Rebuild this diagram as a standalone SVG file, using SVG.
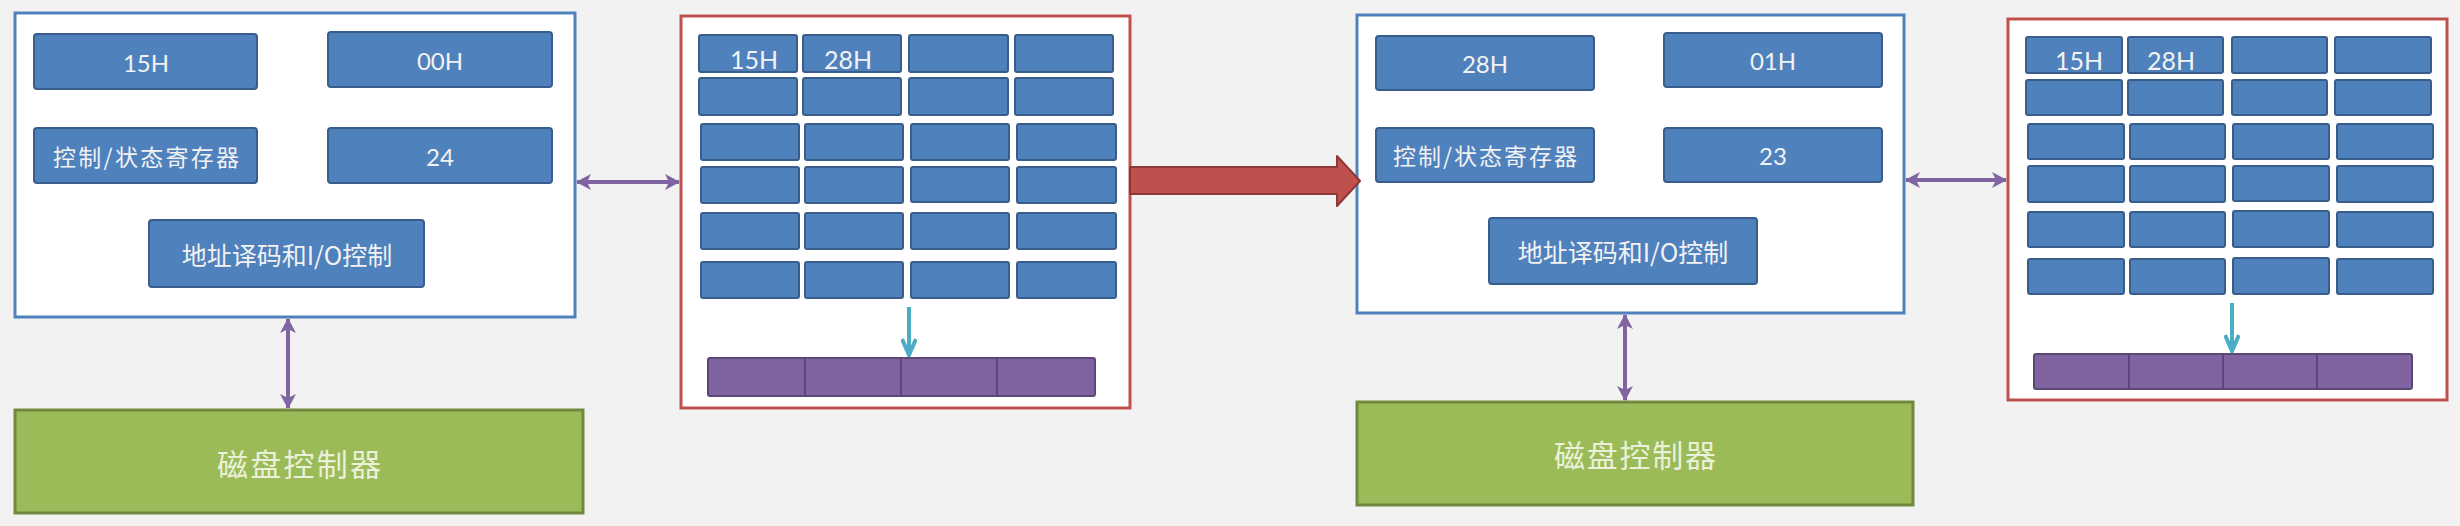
<svg xmlns="http://www.w3.org/2000/svg" width="2460" height="526" viewBox="0 0 2460 526">
<defs>
<style>
.bg{fill:#f2f2f2}
.frameB{fill:#ffffff;stroke:#4f81bd;stroke-width:3}
.frameR{fill:#ffffff;stroke:#c0504d;stroke-width:3}
.cell{fill:#4f81bd;stroke:#385d8a;stroke-width:2}
.green{fill:#9bbb59;stroke:#71893f;stroke-width:3}
.bar{fill:#8064a2;stroke:#5c4776;stroke-width:2}
.div{stroke:#5c4776;stroke-width:2}
.t{fill:#f2f2f2;font-family:Lato,"Liberation Sans","Noto Sans CJK SC",sans-serif;font-size:24px;text-anchor:middle;dominant-baseline:central}
.tc{fill:#f2f2f2;font-family:"Noto Sans CJK SC","Noto Sans",sans-serif;font-size:23px;text-anchor:middle;dominant-baseline:central}
.ta{fill:#f2f2f2;font-family:"Noto Sans CJK SC","Noto Sans",sans-serif;font-size:25px;text-anchor:middle;dominant-baseline:central}
.tg{fill:#eaf1d8;font-family:"Noto Sans CJK SC","Noto Sans",sans-serif;font-size:31px;text-anchor:middle;dominant-baseline:central}
.tn{fill:#f2f2f2;font-family:Lato,"Liberation Sans",sans-serif;font-size:25px;text-anchor:middle}
.pl{stroke:#8064a2;stroke-width:4;fill:none}
.cl{stroke:#4bacc6;stroke-width:4;fill:none}
</style>
<marker id="pa" viewBox="0 0 16 16" refX="14" refY="8" markerWidth="16" markerHeight="16" markerUnits="userSpaceOnUse" orient="auto-start-reverse">
<path d="M0,0 L15,8 L0,16 L4,8 z" fill="#8064a2"/>
</marker>
<marker id="ca" viewBox="0 0 20 16" refX="18" refY="8" markerWidth="20" markerHeight="16" markerUnits="userSpaceOnUse" orient="auto">
<path d="M2,1 L18,8 L2,15" fill="none" stroke="#4bacc6" stroke-width="4"/>
</marker>
</defs>
<rect class="bg" x="0" y="0" width="2460" height="526"/>

<g id="controller1">
<rect class="frameB" x="15" y="13" width="560" height="304"/>
<rect class="cell" x="34" y="34" width="223" height="55" rx="3"/>
<text class="t" x="146" y="62">15H</text>
<rect class="cell" x="328" y="32" width="224" height="55" rx="3"/>
<text class="t" x="440" y="60">00H</text>
<rect class="cell" x="34" y="128" width="223" height="55" rx="3"/>
<text class="tc" x="146" y="156" textLength="186" lengthAdjust="spacing">控制/状态寄存器</text>
<rect class="cell" x="328" y="128" width="224" height="55" rx="3"/>
<text class="t" x="440" y="156">24</text>
<rect class="cell" x="149" y="220" width="275" height="67" rx="3"/>
<text class="ta" x="287" y="254">地址译码和I/O控制</text>
</g>

<g id="disk1">
<rect class="green" x="15" y="410" width="568" height="103"/>
<text class="tg" x="299" y="462" textLength="164" lengthAdjust="spacing">磁盘控制器</text>
</g>

<g id="memory1">
<rect class="frameR" x="681" y="16" width="449" height="392"/>
<rect class="cell" x="699" y="35" width="98" height="37" rx="2"/>
<rect class="cell" x="803" y="35" width="98" height="37" rx="2"/>
<rect class="cell" x="909" y="35" width="99" height="37" rx="2"/>
<rect class="cell" x="1015" y="35" width="98" height="37" rx="2"/>
<rect class="cell" x="699" y="78" width="98" height="37" rx="2"/>
<rect class="cell" x="803" y="78" width="98" height="37" rx="2"/>
<rect class="cell" x="909" y="78" width="99" height="37" rx="2"/>
<rect class="cell" x="1015" y="78" width="98" height="37" rx="2"/>
<rect class="cell" x="701" y="124" width="98" height="36" rx="2"/>
<rect class="cell" x="805" y="124" width="98" height="36" rx="2"/>
<rect class="cell" x="911" y="124" width="98" height="36" rx="2"/>
<rect class="cell" x="1017" y="124" width="99" height="36" rx="2"/>
<rect class="cell" x="701" y="167" width="98" height="36" rx="2"/>
<rect class="cell" x="805" y="167" width="98" height="36" rx="2"/>
<rect class="cell" x="911" y="167" width="98" height="35" rx="2"/>
<rect class="cell" x="1017" y="167" width="99" height="36" rx="2"/>
<rect class="cell" x="701" y="213" width="98" height="36" rx="2"/>
<rect class="cell" x="805" y="213" width="98" height="36" rx="2"/>
<rect class="cell" x="911" y="213" width="98" height="36" rx="2"/>
<rect class="cell" x="1017" y="213" width="99" height="36" rx="2"/>
<rect class="cell" x="701" y="262" width="98" height="36" rx="2"/>
<rect class="cell" x="805" y="262" width="98" height="36" rx="2"/>
<rect class="cell" x="911" y="262" width="98" height="36" rx="2"/>
<rect class="cell" x="1017" y="262" width="99" height="36" rx="2"/>
<text class="tn" x="754" y="69">15H</text>
<text class="tn" x="848" y="69">28H</text>
<rect class="bar" x="708" y="358" width="387" height="38" rx="2"/>
<line class="div" x1="805" y1="358" x2="805" y2="396"/>
<line class="div" x1="901" y1="358" x2="901" y2="396"/>
<line class="div" x1="997" y1="358" x2="997" y2="396"/>
</g>

<g id="controller2">
<rect class="frameB" x="1357" y="15" width="547" height="298"/>
<rect class="cell" x="1376" y="36" width="218" height="54" rx="3"/>
<text class="t" x="1485" y="63">28H</text>
<rect class="cell" x="1664" y="33" width="218" height="54" rx="3"/>
<text class="t" x="1773" y="60">01H</text>
<rect class="cell" x="1376" y="128" width="218" height="54" rx="3"/>
<text class="tc" x="1485" y="155" textLength="184" lengthAdjust="spacing">控制/状态寄存器</text>
<rect class="cell" x="1664" y="128" width="218" height="54" rx="3"/>
<text class="t" x="1773" y="155">23</text>
<rect class="cell" x="1489" y="218" width="268" height="66" rx="3"/>
<text class="ta" x="1623" y="251">地址译码和I/O控制</text>
</g>

<g id="disk2">
<rect class="green" x="1357" y="402" width="556" height="103"/>
<text class="tg" x="1635" y="453" textLength="162" lengthAdjust="spacing">磁盘控制器</text>
</g>

<g id="memory2">
<rect class="frameR" x="2008" y="19" width="439" height="381"/>
<rect class="cell" x="2026" y="37" width="96" height="36" rx="2"/>
<rect class="cell" x="2128" y="37" width="95" height="36" rx="2"/>
<rect class="cell" x="2232" y="37" width="95" height="36" rx="2"/>
<rect class="cell" x="2335" y="37" width="96" height="36" rx="2"/>
<rect class="cell" x="2026" y="80" width="96" height="35" rx="2"/>
<rect class="cell" x="2128" y="80" width="95" height="35" rx="2"/>
<rect class="cell" x="2232" y="80" width="95" height="35" rx="2"/>
<rect class="cell" x="2335" y="80" width="96" height="35" rx="2"/>
<rect class="cell" x="2028" y="124" width="96" height="35" rx="2"/>
<rect class="cell" x="2130" y="124" width="95" height="35" rx="2"/>
<rect class="cell" x="2233" y="124" width="96" height="35" rx="2"/>
<rect class="cell" x="2337" y="124" width="96" height="35" rx="2"/>
<rect class="cell" x="2028" y="166" width="96" height="36" rx="2"/>
<rect class="cell" x="2130" y="166" width="95" height="36" rx="2"/>
<rect class="cell" x="2233" y="166" width="96" height="35" rx="2"/>
<rect class="cell" x="2337" y="166" width="96" height="36" rx="2"/>
<rect class="cell" x="2028" y="212" width="96" height="35" rx="2"/>
<rect class="cell" x="2130" y="212" width="95" height="35" rx="2"/>
<rect class="cell" x="2233" y="211" width="96" height="36" rx="2"/>
<rect class="cell" x="2337" y="212" width="96" height="35" rx="2"/>
<rect class="cell" x="2028" y="259" width="96" height="35" rx="2"/>
<rect class="cell" x="2130" y="259" width="95" height="35" rx="2"/>
<rect class="cell" x="2233" y="258" width="96" height="36" rx="2"/>
<rect class="cell" x="2337" y="259" width="96" height="35" rx="2"/>
<text class="tn" x="2079" y="70">15H</text>
<text class="tn" x="2171" y="70">28H</text>
<rect class="bar" x="2034" y="354" width="378" height="35" rx="2"/>
<line class="div" x1="2129" y1="354" x2="2129" y2="389"/>
<line class="div" x1="2223" y1="354" x2="2223" y2="389"/>
<line class="div" x1="2317" y1="354" x2="2317" y2="389"/>
</g>

<g id="connectors">
<line class="pl" x1="577" y1="182" x2="679" y2="182" marker-start="url(#pa)" marker-end="url(#pa)"/>
<line class="pl" x1="288" y1="319" x2="288" y2="408" marker-start="url(#pa)" marker-end="url(#pa)"/>
<line class="pl" x1="1906" y1="180" x2="2006" y2="180" marker-start="url(#pa)" marker-end="url(#pa)"/>
<line class="pl" x1="1625" y1="315" x2="1625" y2="400" marker-start="url(#pa)" marker-end="url(#pa)"/>
<line class="cl" x1="909" y1="307" x2="909" y2="355" marker-end="url(#ca)"/>
<line class="cl" x1="2232" y1="303" x2="2232" y2="351" marker-end="url(#ca)"/>
<polygon points="1130,167 1337,167 1337,156 1360,181 1337,206 1337,194 1130,194" fill="#c0504d" stroke="#8c3836" stroke-width="2" stroke-linejoin="round"/>
</g>
</svg>
